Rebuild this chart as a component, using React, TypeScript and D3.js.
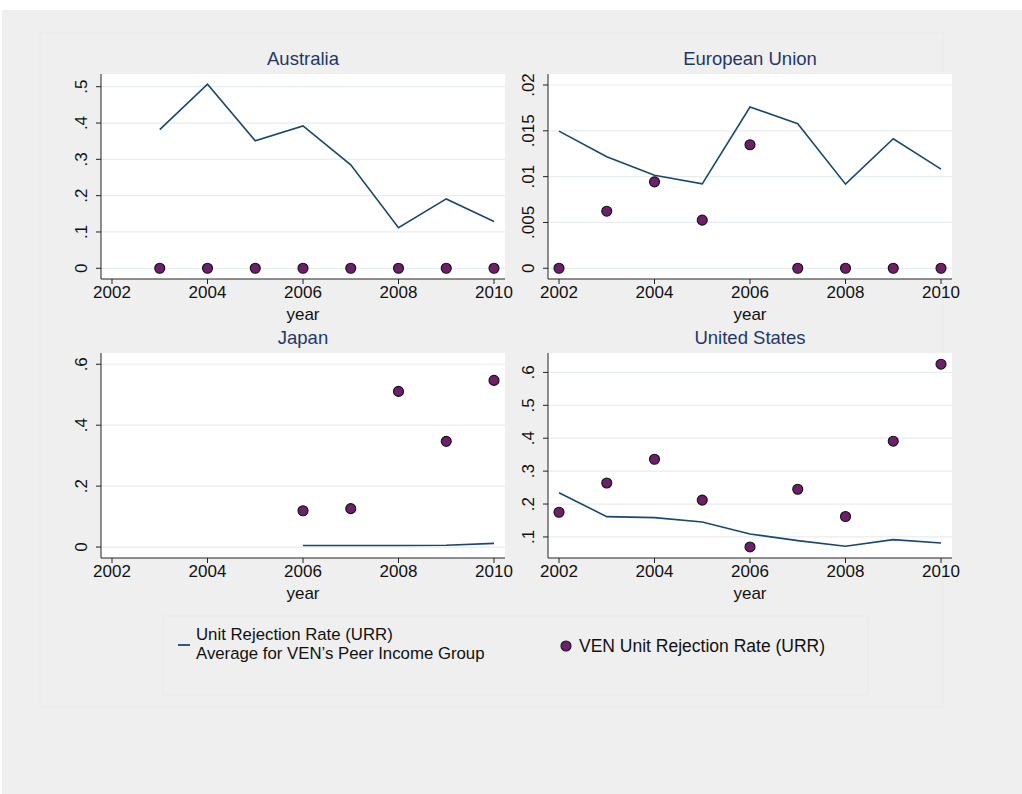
import React from "react";
import * as d3 from "d3";

const years = [2002, 2003, 2004, 2005, 2006, 2007, 2008, 2009, 2010];

// Australia
const ausAvg: (number | null)[] = [null, 0.382, 0.507, 0.351, 0.392, 0.285, 0.112, 0.191, 0.129];
const ausVen: (number | null)[] = [null, 0, 0, 0, 0, 0, 0, 0, 0];
const ausTicks = [0, 0.1, 0.2, 0.3, 0.4, 0.5];
const ausTickLabels = ["0", ".1", ".2", ".3", ".4", ".5"];

// European Union
const euAvg: (number | null)[] = [0.01497, 0.01217, 0.01016, 0.00921, 0.0176, 0.01577, 0.00918, 0.01413, 0.01082];
const euVen: (number | null)[] = [0, 0.00623, 0.00943, 0.00525, 0.01348, 0, 0, 0, 0];
const euTicks = [0, 0.005, 0.01, 0.015, 0.02];
const euTickLabels = ["0", ".005", ".01", ".015", ".02"];

// Japan
const jpAvg: (number | null)[] = [null, null, null, null, 0.005, 0.005, 0.005, 0.006, 0.012];
const jpVen: (number | null)[] = [null, null, null, null, 0.119, 0.126, 0.511, 0.347, 0.547];
const jpTicks = [0, 0.2, 0.4, 0.6];
const jpTickLabels = ["0", ".2", ".4", ".6"];

// United States
const usAvg: (number | null)[] = [0.2345, 0.1616, 0.1586, 0.1455, 0.109, 0.0888, 0.0717, 0.0918, 0.0818];
const usVen: (number | null)[] = [0.175, 0.264, 0.336, 0.212, 0.0696, 0.245, 0.162, 0.391, 0.625];
const usTicks = [0.1, 0.2, 0.3, 0.4, 0.5, 0.6];
const usTickLabels = [".1", ".2", ".3", ".4", ".5", ".6"];

const xTicks = [2002, 2004, 2006, 2008, 2010];
const xTickLabels = ["2002", "2004", "2006", "2008", "2010"];

const legendLine1 = "Unit Rejection Rate (URR)";
const legendLine2 = "Average for VEN\u2019s Peer Income Group";
const legendVen = "VEN Unit Rejection Rate (URR)";

const FONT = "'Liberation Sans', Arial, Helvetica, sans-serif";
const LINE_COLOR = "#1a476f";
const MARKER_FILL = "#6e1f6c";
const TITLE_COLOR = "#1f3768";
const GRID_COLOR = "#e6eef0";
const BG = "#efefef";

type PanelDef = {
  title: string;
  avg: (number | null)[];
  ven: (number | null)[];
  ticks: number[];
  tickLabels: string[];
  yDomain: [number, number];
  x0: number;
  x1: number;
  y0: number;
  y1: number;
};

function Panel({ p }: { p: PanelDef }) {
  const x = d3.scaleLinear().domain([2002, 2010]).range([p.x0 + 11, p.x1 - 11]);
  const y = d3.scaleLinear().domain(p.yDomain).range([p.y1, p.y0]);
  const pts = years.map((yr, i) => ({ yr, v: p.avg[i] }));
  const line = d3
    .line<{ yr: number; v: number | null }>()
    .defined((d) => d.v !== null)
    .x((d) => x(d.yr))
    .y((d) => y(d.v as number));
  const cx = (p.x0 + p.x1) / 2;
  return (
    <g>
      <rect x={p.x0} y={p.y0} width={p.x1 - p.x0} height={p.y1 - p.y0} fill="#ffffff" />
      {p.ticks.map((t) => (
        <line key={"g" + t} x1={p.x0} x2={p.x1} y1={y(t)} y2={y(t)} stroke={GRID_COLOR} strokeWidth={1.2} />
      ))}
      <path d={line(pts) || ""} fill="none" stroke={LINE_COLOR} strokeWidth={1.6} strokeLinejoin="miter" />
      {years.map((yr, i) =>
        p.ven[i] === null ? null : (
          <circle key={"c" + yr} cx={x(yr)} cy={y(p.ven[i] as number)} r={5} fill={MARKER_FILL} stroke="#111" strokeWidth={1.1} />
        )
      )}
      <line x1={p.x0} x2={p.x0} y1={p.y0} y2={p.y1} stroke="#222" strokeWidth={1} />
      <line x1={p.x0} x2={p.x1} y1={p.y1} y2={p.y1} stroke="#222" strokeWidth={1} />
      {p.ticks.map((t, i) => (
        <g key={"yt" + t}>
          <line x1={p.x0 - 5} x2={p.x0} y1={y(t)} y2={y(t)} stroke="#222" strokeWidth={1} />
          <text
            transform={`translate(${p.x0 - 14},${y(t)}) rotate(-90)`}
            textAnchor="middle"
            fontFamily={FONT}
            fontSize={17}
            fill="#111"
          >
            {p.tickLabels[i]}
          </text>
        </g>
      ))}
      {xTicks.map((t, i) => (
        <g key={"xt" + t}>
          <line x1={x(t)} x2={x(t)} y1={p.y1} y2={p.y1 + 5} stroke="#222" strokeWidth={1} />
          <text x={x(t)} y={p.y1 + 19} textAnchor="middle" fontFamily={FONT} fontSize={17} fill="#111">
            {xTickLabels[i]}
          </text>
        </g>
      ))}
      <text x={x(2006)} y={p.y1 + 41} textAnchor="middle" fontFamily={FONT} fontSize={17} fill="#111">
        year
      </text>
      <text x={cx} y={p.y0 - 9} textAnchor="middle" fontFamily={FONT} fontSize={18.5} fill={TITLE_COLOR}>
        {p.title}
      </text>
    </g>
  );
}

export default function App() {
  const panels: PanelDef[] = [
    { title: "Australia", avg: ausAvg, ven: ausVen, ticks: ausTicks, tickLabels: ausTickLabels, yDomain: [-0.0295, 0.535], x0: 101, x1: 505, y0: 74, y1: 279 },
    { title: "European Union", avg: euAvg, ven: euVen, ticks: euTicks, tickLabels: euTickLabels, yDomain: [-0.00117, 0.0212], x0: 548, x1: 952, y0: 74, y1: 279 },
    { title: "Japan", avg: jpAvg, ven: jpVen, ticks: jpTicks, tickLabels: jpTickLabels, yDomain: [-0.036, 0.637], x0: 101, x1: 505, y0: 353, y1: 558 },
    { title: "United States", avg: usAvg, ven: usVen, ticks: usTicks, tickLabels: usTickLabels, yDomain: [0.036, 0.659], x0: 548, x1: 952, y0: 353, y1: 558 },
  ];
  return (
    <svg
      width={1022}
      height={794}
      style={{ position: "absolute", left: 0, top: 0, display: "block" }}
    >
      <rect x={0} y={0} width={1022} height={794} fill="#ffffff" />
      <rect x={2} y={10} width={1020} height={784} fill={BG} />
      <rect x={40} y={33} width={903} height={674} fill="none" stroke="#e4ebeb" strokeWidth={1} />
      <rect x={163} y={616} width={705} height={79} fill="none" stroke="#e4ebeb" strokeWidth={1} />
      {panels.map((p) => (
        <Panel key={p.title} p={p} />
      ))}
      <line x1={178} x2={190} y1={645} y2={645} stroke={LINE_COLOR} strokeWidth={1.8} />
      <text x={196} y={640} fontFamily={FONT} fontSize={16.8} fill="#111">
        {legendLine1}
      </text>
      <text x={196} y={659} fontFamily={FONT} fontSize={16.8} fill="#111">
        {legendLine2}
      </text>
      <circle cx={566} cy={646} r={5} fill={MARKER_FILL} stroke="#111" strokeWidth={1.1} />
      <text x={579} y={652} fontFamily={FONT} fontSize={17.5} fill="#111">
        {legendVen}
      </text>
    </svg>
  );
}
